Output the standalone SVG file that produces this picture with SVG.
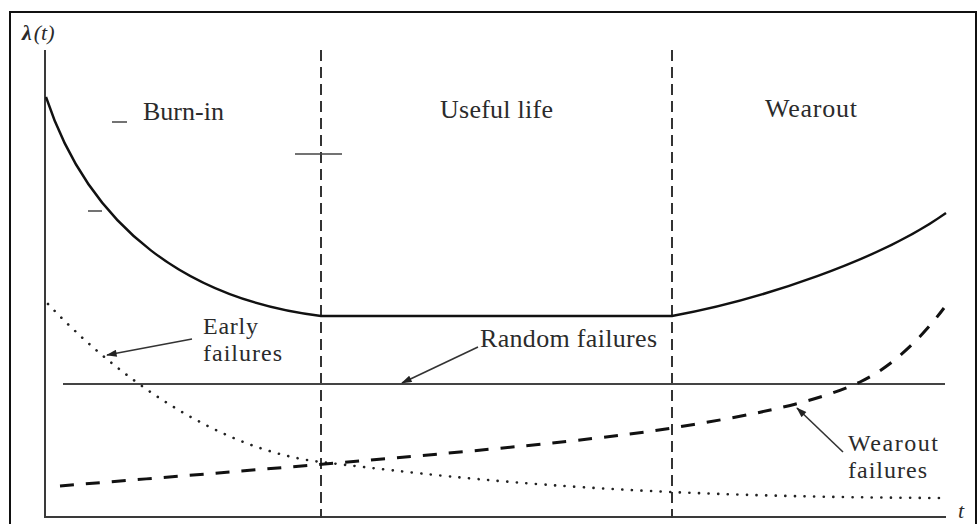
<svg xmlns="http://www.w3.org/2000/svg" width="979" height="524" viewBox="0 0 979 524">
  <defs>
    <marker id="ah" viewBox="0 0 12 8" refX="11" refY="4" markerWidth="12" markerHeight="7" markerUnits="userSpaceOnUse" orient="auto">
      <path d="M0,0 L12,4 L0,8 Z" fill="#222"/>
    </marker>
  </defs>
  <style>
    .lbl { font-family: "Liberation Serif", "Times New Roman", serif; font-size: 26px; fill: #2b2b2b; }
    .lbl2 { font-family: "Liberation Serif", "Times New Roman", serif; font-size: 24px; fill: #2b2b2b; }
    .ax { stroke: #3a3a3a; stroke-width: 2; fill: none; }
    .div { stroke: #333; stroke-width: 2; stroke-dasharray: 11 6; fill: none; }
    .bath { stroke: #111; stroke-width: 2.4; fill: none; }
    .rand { stroke: #444; stroke-width: 1.8; fill: none; }
    .early { stroke: #222; stroke-width: 2.6; stroke-dasharray: 0.1 9.5; stroke-linecap: round; fill: none; }
    .wear { stroke: #111; stroke-width: 3; stroke-dasharray: 14 12; fill: none; }
    .ptr { stroke: #333; stroke-width: 1.6; fill: none; marker-end: url(#ah); }
    .mark { stroke: #444; stroke-width: 1.5; fill: none; }
  </style>
  <rect width="979" height="524" fill="#ffffff"/>
  <g id="frame">
    <path d="M10,530 L10,12 L976,12 L976,530" stroke="#111" stroke-width="2" fill="none"/>
  </g>
  <g id="axes">
    <line class="ax" x1="45" y1="50" x2="45" y2="518"/>
    <line class="ax" x1="44" y1="517" x2="946" y2="517"/>
    <text x="22" y="40" style="font-family: 'Liberation Serif', serif; font-size: 22px; fill: #2b2b2b;"><tspan font-weight="bold" font-style="italic">λ</tspan><tspan font-style="italic" dx="2">(t)</tspan></text>
    <text x="958" y="518" style="font-family: 'Liberation Serif', serif; font-size: 22px; font-style: italic; fill: #2b2b2b;">t</text>
  </g>
  <g id="dividers">
    <line class="div" x1="321" y1="50" x2="321" y2="518"/>
    <line class="div" x1="672" y1="50" x2="672" y2="518"/>
    <line class="mark" x1="295" y1="154" x2="342" y2="154"/>
    <line class="mark" x1="112" y1="122" x2="127" y2="122"/>
    <line class="mark" x1="88" y1="211" x2="102" y2="211"/>
  </g>
  <g id="phase-burn-in"><text class="lbl" x="143" y="120">Burn-in</text></g>
  <g id="phase-useful-life"><text class="lbl" x="440" y="118" textLength="113">Useful life</text></g>
  <g id="phase-wearout"><text class="lbl" x="765" y="117" textLength="92">Wearout</text></g>
  <g id="label-early"><text class="lbl2" x="203" y="334" textLength="55">Early</text><text class="lbl2" x="203" y="361" textLength="79">failures</text></g>
  <g id="label-random"><text class="lbl" x="480" y="347" textLength="177">Random failures</text></g>
  <g id="label-wearout-failures"><text class="lbl2" x="848" y="451" textLength="90">Wearout</text><text class="lbl2" x="848" y="478" textLength="79">failures</text></g>
  <g id="connectors">
    <path id="bathtub" class="bath" d="M46,97 C90,230 190,300 321,316 L672,316 C760,300 880,260 946,213"/>
    <line id="random-failures" class="rand" x1="63" y1="384" x2="945" y2="384"/>
    <path id="early-failures" class="early" d="M48,304 C120,380 220,450 321,462 C440,476 600,497 947,498"/>
    <path id="wearout-failures" class="wear" d="M60,486 C300,466 560,446 672,428 C740,417 810,405 860,382 C890,368 920,340 944,308"/>
    <line class="ptr" x1="192" y1="339" x2="107" y2="355"/>
    <line class="ptr" x1="478" y1="347" x2="402" y2="383"/>
    <line class="ptr" x1="843" y1="452" x2="797" y2="408"/>
  </g>
</svg>
